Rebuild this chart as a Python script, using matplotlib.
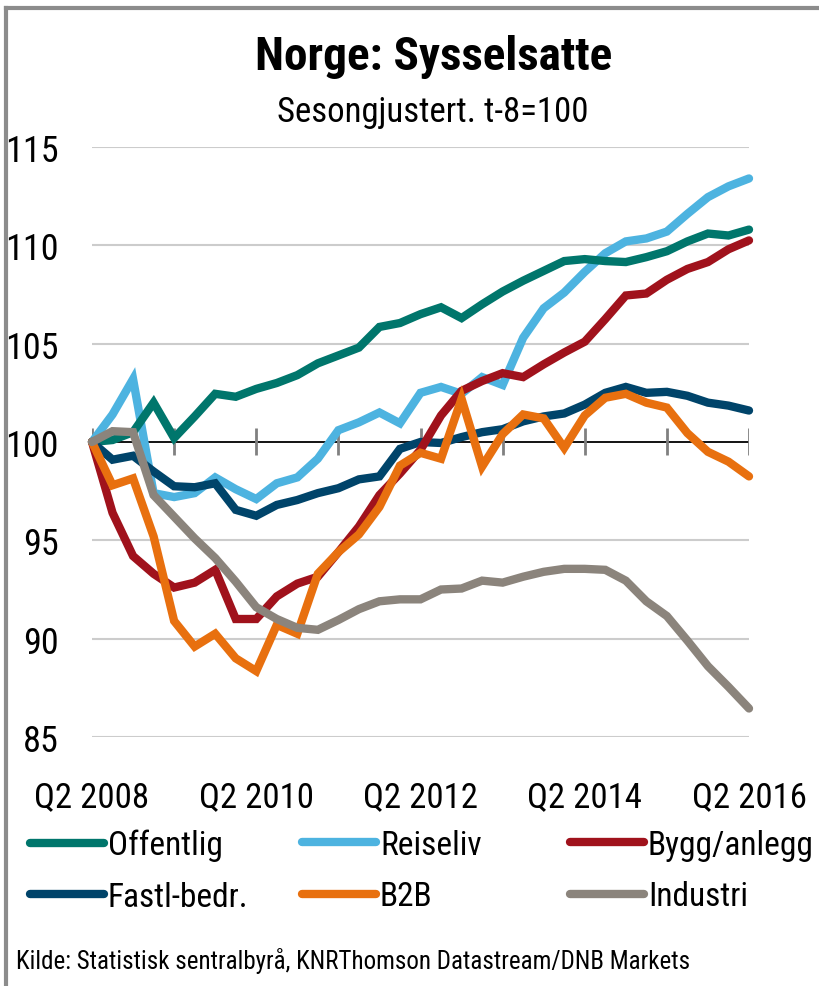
import matplotlib
matplotlib.use("Agg")
import matplotlib.pyplot as plt
from matplotlib import font_manager
from matplotlib.lines import Line2D

# the reference uses a narrow Arial; take the first condensed face that exists
narrow = None
for cand in ['Arial Narrow', 'Liberation Sans Narrow', 'Roboto Condensed',
             'Archivo Narrow', 'PT Sans Narrow']:
    try:
        font_manager.findfont(font_manager.FontProperties(family=cand),
                              fallback_to_default=False)
        narrow = cand
        break
    except ValueError:
        pass
if narrow:
    plt.rcParams['font.family'] = [narrow, 'Liberation Sans', 'DejaVu Sans']
    fs = 1.0
else:
    plt.rcParams['font.family'] = ['Liberation Sans', 'DejaVu Sans']
    fs = 0.82

# quarterly index, Q2 2008 .. Q2 2016 (t-8 = 100)
quarters = list(range(33))
xtick_pos = [0, 8, 16, 24, 32]
xtick_labels = ['Q2 2008', 'Q2 2010', 'Q2 2012', 'Q2 2014', 'Q2 2016']
yticks = [85, 90, 95, 100, 105, 110, 115]

offentlig = [100.0, 100.1, 100.5, 102.0, 100.2, 101.3, 102.45, 102.3, 102.7, 103.0,
             103.4, 104.0, 104.4, 104.8, 105.85, 106.05, 106.5, 106.85, 106.3, 107.0,
             107.65, 108.2, 108.7, 109.2, 109.3, 109.2, 109.15, 109.4, 109.7, 110.2,
             110.6, 110.5, 110.8]
reiseliv = [100.0, 101.4, 103.2, 97.4, 97.2, 97.4, 98.2, 97.6, 97.1, 97.9,
            98.2, 99.15, 100.6, 101.0, 101.5, 100.95, 102.5, 102.8, 102.45, 103.3,
            102.9, 105.3, 106.8, 107.6, 108.65, 109.6, 110.2, 110.35, 110.7, 111.6,
            112.45, 113.0, 113.4]
bygg = [100.0, 96.4, 94.2, 93.3, 92.6, 92.85, 93.5, 91.0, 91.0, 92.15,
        92.8, 93.15, 94.4, 95.7, 97.3, 98.4, 99.6, 101.35, 102.6, 103.1,
        103.5, 103.3, 103.95, 104.55, 105.1, 106.25, 107.45, 107.55, 108.25, 108.8,
        109.15, 109.8, 110.25]
fastl = [100.0, 99.1, 99.3, 98.5, 97.75, 97.7, 97.9, 96.55, 96.25, 96.8,
         97.05, 97.4, 97.65, 98.1, 98.25, 99.65, 100.0, 99.95, 100.25, 100.5,
         100.65, 101.05, 101.3, 101.45, 101.9, 102.5, 102.8, 102.5, 102.55, 102.35,
         102.0, 101.85, 101.6]
b2b = [100.0, 97.8, 98.15, 95.2, 90.9, 89.6, 90.25, 89.0, 88.35, 90.7,
       90.25, 93.3, 94.4, 95.3, 96.7, 98.8, 99.45, 99.15, 102.2, 98.75,
       100.4, 101.4, 101.2, 99.7, 101.35, 102.25, 102.45, 102.0, 101.75, 100.45,
       99.5, 99.0, 98.25]
industri = [100.0, 100.55, 100.5, 97.3, 96.2, 95.1, 94.1, 92.9, 91.6, 91.0,
            90.55, 90.45, 90.95, 91.5, 91.9, 92.0, 92.0, 92.5, 92.55, 92.95,
            92.85, 93.15, 93.4, 93.55, 93.55, 93.5, 92.95, 91.9, 91.15, 89.9,
            88.6, 87.55, 86.45]

c_off = '#00766c'
c_rei = '#4db3e0'
c_byg = '#a0121c'
c_fas = '#00446a'
c_b2b = '#e8700f'
c_ind = '#8b847c'

fig = plt.figure(figsize=(8.19, 9.87), dpi=100)
ax = fig.add_axes([92 / 819, 1 - 738 / 987, (749 - 92) / 819, (738 - 148) / 987])

for y in yticks:
    if y != 100:
        ax.axhline(y, color='#cccccc', lw=1.5, zorder=1)
ax.axhline(100, color='black', lw=1.3, zorder=2)
ax.vlines(range(0, 33, 4), 99.33, 100.7, color='#808080', lw=2, zorder=2)

lw = 6.0
series = [
    (reiseliv, c_rei, 'Reiseliv'),
    (offentlig, c_off, 'Offentlig'),
    (fastl, c_fas, 'Fastl-bedr.'),
    (bygg, c_byg, 'Bygg/anlegg'),
    (b2b, c_b2b, 'B2B'),
    (industri, c_ind, 'Industri'),
]
for vals, col, name in series:
    ax.plot(quarters, vals, color=col, lw=lw, solid_capstyle='round',
            solid_joinstyle='miter', clip_on=False, zorder=3)

ax.set_xlim(0, 32)
ax.set_ylim(85, 115)
for s in ax.spines.values():
    s.set_visible(False)
ax.set_yticks(yticks)
ax.set_yticklabels([str(v) for v in yticks], fontsize=26 * fs)
ax.set_xticks(xtick_pos)
ax.set_xticklabels(xtick_labels, fontsize=25 * fs)
ax.tick_params(axis='y', length=0, pad=24)
ax.tick_params(axis='x', length=0, pad=31)

fig.text(0.53, 0.942, 'Norge: Sysselsatte', ha='center', va='center',
         fontsize=34 * fs, fontweight='bold')
fig.text(0.528, 0.886, 'Sesongjustert. t-8=100', ha='center', va='center',
         fontsize=25 * fs)

# legend, three columns placed separately
leg_fs = 24 * fs
cols = [
    [(c_off, 'Offentlig'), (c_fas, 'Fastl-bedr.')],
    [(c_rei, 'Reiseliv'), (c_b2b, 'B2B')],
    [(c_byg, 'Bygg/anlegg'), (c_ind, 'Industri')],
]
col_x = [30 / 819, 302 / 819, 570 / 819]
for cx, entries in zip(col_x, cols):
    handles = [Line2D([], [], color=c, lw=lw, solid_capstyle='round') for c, _ in entries]
    fig.legend(handles, [n for _, n in entries], loc='upper left',
               bbox_to_anchor=(cx, 1 - 830 / 987), frameon=False, fontsize=leg_fs,
               handlelength=74 / (leg_fs * 100 / 72), handletextpad=0.12,
               labelspacing=0.58, borderpad=0, borderaxespad=0)

fig.text(16 / 819, 1 - 961 / 987,
         'Kilde: Statistisk sentralbyrå, KNRThomson Datastream/DNB Markets',
         ha='left', va='center', fontsize=18 * fs)

# grey frame on top and left
fig.add_artist(Line2D([6 / 819, 6 / 819], [0, 1 - 9 / 987], color='#8c8c8c', lw=3,
                      transform=fig.transFigure))
fig.add_artist(Line2D([6 / 819, 1], [1 - 9 / 987, 1 - 9 / 987], color='#8c8c8c', lw=3,
                      transform=fig.transFigure))

fig.savefig('out.png', dpi=100)
